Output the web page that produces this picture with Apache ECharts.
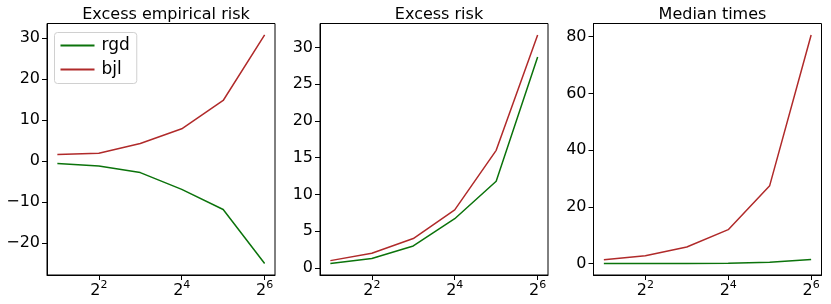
<!DOCTYPE html>
<html>
<head>
<meta charset="utf-8">
<script src="https://cdn.jsdelivr.net/npm/echarts@6/dist/echarts.min.js"></script>
<style>
html,body{margin:0;padding:0;background:#fff;}
#chart{width:831px;height:304px;}
</style>
</head>
<body>
<div id="chart"></div>
<script>
// ---- data ----
const xValues = [2, 4, 8, 16, 32, 64];
const xTickValues = [4, 16, 64];
const titles = ['Excess empirical risk', 'Excess risk', 'Median times'];
const seriesNames = ['rgd', 'bjl'];

const empRiskRgd = [-0.6, -1.2, -2.8, -6.9, -11.8, -25.0];
const empRiskBjl = [1.6, 1.9, 4.3, 7.9, 14.8, 30.8];
const riskRgd = [0.6, 1.3, 3.0, 6.7, 11.8, 28.7];
const riskBjl = [1.0, 2.0, 4.0, 7.9, 16.0, 31.7];
const timeRgd = [0.05, 0.07, 0.1, 0.2, 0.5, 1.5];
const timeBjl = [1.4, 2.8, 5.9, 12.0, 27.5, 80.6];

const yTicks1 = [-20, -10, 0, 10, 20, 30];
const yTicks2 = [0, 5, 10, 15, 20, 25, 30];
const yTicks3 = [0, 20, 40, 60, 80];

const panelData = [[empRiskRgd, empRiskBjl], [riskRgd, riskBjl], [timeRgd, timeBjl]];
const yTicks = [yTicks1, yTicks2, yTicks3];

// ---- layout / style ----
const FONT = 'DejaVu Sans';
const colors = ['#0b730b', '#b02a2a'];
const grids = [
  {left: 47, top: 23.5, width: 228, height: 251.5},
  {left: 320, top: 23.5, width: 228, height: 251.5},
  {left: 593.5, top: 23.5, width: 228, height: 251.5}
];
function margin(vals) {
  const mn = Math.min(...vals.flat()), mx = Math.max(...vals.flat());
  const m = (mx - mn) * 0.05;
  return [mn - m, mx + m];
}

const option = {
  animation: false,
  backgroundColor: '#fff',
  textStyle: {fontFamily: FONT},
  title: titles.map((t, i) => ({
    text: t,
    left: grids[i].left + grids[i].width / 2,
    top: 2,
    textAlign: 'center',
    textStyle: {fontFamily: FONT, fontSize: 16, fontWeight: 'normal', color: '#000'}
  })),
  legend: {
    data: seriesNames,
    orient: 'vertical',
    left: 54.5,
    top: 32.5,
    icon: 'rect',
    itemWidth: 34,
    itemHeight: 2,
    itemGap: 6,
    padding: [4, 7, 5, 6],
    backgroundColor: 'rgba(255,255,255,0.8)',
    borderColor: '#d0d0d0',
    borderWidth: 1,
    borderRadius: 3,
    textStyle: {fontFamily: FONT, fontSize: 17, color: '#000', lineHeight: 18, padding: [0, 0, 0, 2]}
  },
  grid: grids.map(g => Object.assign({show: true, borderColor: '#000', borderWidth: 1, containLabel: false}, g)),
  xAxis: grids.map((g, i) => ({
    type: 'log',
    logBase: 2,
    gridIndex: i,
    position: 'bottom',
    min: Math.pow(2, 0.75),
    max: Math.pow(2, 6.25),
    splitLine: {show: false},
    minorTick: {show: false},
    axisLine: {show: true, onZero: false, lineStyle: {color: '#000', width: 1}},
    axisTick: {show: true, inside: false, length: 5, lineStyle: {color: '#000'}, customValues: xTickValues},
    axisLabel: {
      customValues: xTickValues,
      margin: 5,
      formatter: v => '{b|2}{s|' + Math.round(Math.log2(v)) + '}',
      rich: {
        b: {fontFamily: FONT, fontSize: 16, color: '#000', lineHeight: 19, verticalAlign: 'bottom'},
        s: {fontFamily: FONT, fontSize: 11, color: '#000', lineHeight: 11, padding: [0, 0, 8, 0], verticalAlign: 'bottom'}
      }
    }
  })),
  yAxis: grids.map((g, i) => {
    const [mn, mx] = margin(panelData[i]);
    return {
      type: 'value',
      gridIndex: i,
      position: 'left',
      min: mn,
      max: mx,
      splitLine: {show: false},
      axisLine: {show: true, onZero: false, lineStyle: {color: '#000', width: 1}},
      axisTick: {show: true, inside: false, length: 5, lineStyle: {color: '#000'}, customValues: yTicks[i]},
      axisLabel: {
        customValues: yTicks[i],
        margin: 7,
        fontFamily: FONT,
        fontSize: 16,
        color: '#000',
        formatter: v => (v < 0 ? '\u2212' + Math.abs(v) : String(v))
      }
    };
  }),
  series: []
};

panelData.forEach((pair, i) => {
  pair.forEach((vals, j) => {
    option.series.push({
      name: seriesNames[j],
      type: 'line',
      xAxisIndex: i,
      yAxisIndex: i,
      data: xValues.map((x, k) => [x, vals[k]]),
      showSymbol: false,
      symbol: 'none',
      lineStyle: {color: colors[j], width: 1.5},
      itemStyle: {color: colors[j]},
      z: 2 + j
    });
  });
});

const chart = echarts.init(document.getElementById('chart'), null, {renderer: 'canvas'});
chart.setOption(option);
</script>
</body>
</html>
